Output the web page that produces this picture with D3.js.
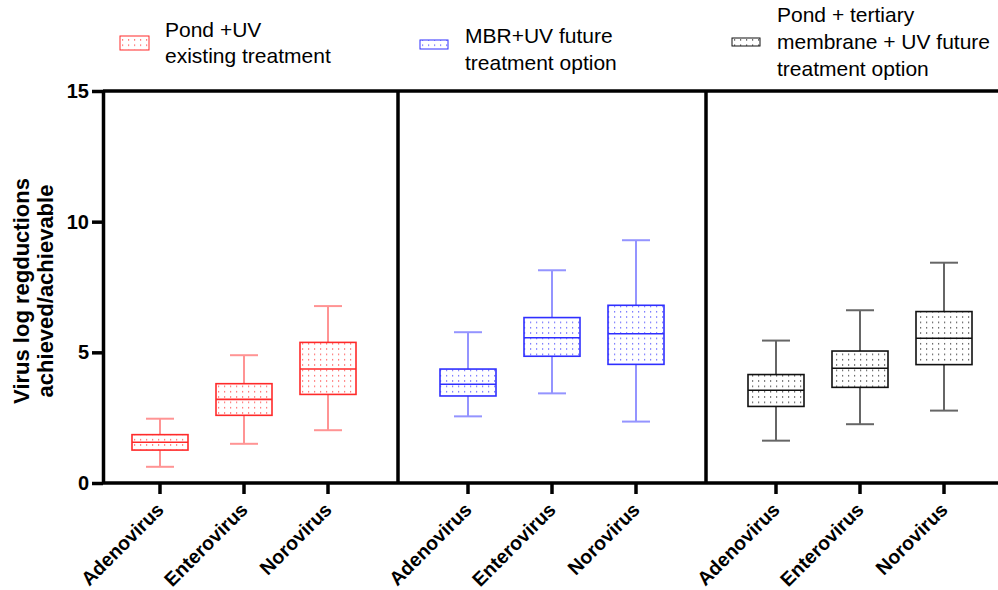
<!DOCTYPE html>
<html>
<head>
<meta charset="utf-8">
<script src="https://cdn.jsdelivr.net/npm/d3@7"></script>
<style>
  html, body { margin: 0; padding: 0; background: #fff; }
  svg { display: block; font-family: "Liberation Sans", Arial, Helvetica, sans-serif; }
</style>
</head>
<body>
<svg id="chart" width="998" height="590"></svg>
<script>
// Virus categories shown in each treatment panel
const viruses = ["Adenovirus", "Enterovirus", "Norovirus"];

// Treatment trains (one panel each) and their legend lines
const treatments = ["pondUV", "mbrUV", "pondMembraneUV"];
const legendLines = [
  ["Pond +UV", "existing treatment"],
  ["MBR+UV future", "treatment option"],
  ["Pond + tertiary", "membrane + UV future", "treatment option"]
];
const colors = ["#ff2a2a", "#2f2fff", "#111111"];
const whiskerColors = ["#ff9494", "#9494ff", "#666666"];

// Box-plot statistics (log reduction values), one array per treatment, ordered by virus
const pondUVMin    = [0.62, 1.50, 2.02];
const pondUVQ1     = [1.26, 2.59, 3.39];
const pondUVMedian = [1.56, 3.20, 4.36];
const pondUVQ3     = [1.85, 3.80, 5.38];
const pondUVMax    = [2.46, 4.89, 6.77];

const mbrUVMin    = [2.55, 3.43, 2.35];
const mbrUVQ1     = [3.33, 4.85, 4.54];
const mbrUVMedian = [3.78, 5.56, 5.71];
const mbrUVQ3     = [4.36, 6.33, 6.80];
const mbrUVMax    = [5.77, 8.14, 9.29];

const pondMemUVMin    = [1.62, 2.25, 2.77];
const pondMemUVQ1     = [2.93, 3.66, 4.53];
const pondMemUVMedian = [3.55, 4.39, 5.54];
const pondMemUVQ3     = [4.15, 5.05, 6.56];
const pondMemUVMax    = [5.45, 6.61, 8.43];

// Y-axis tick labels
const yTicks = [0, 5, 10, 15];

const stats = [
  { min: pondUVMin, q1: pondUVQ1, med: pondUVMedian, q3: pondUVQ3, max: pondUVMax },
  { min: mbrUVMin, q1: mbrUVQ1, med: mbrUVMedian, q3: mbrUVQ3, max: mbrUVMax },
  { min: pondMemUVMin, q1: pondMemUVQ1, med: pondMemUVMedian, q3: pondMemUVQ3, max: pondMemUVMax }
];

const boxes = [];
treatments.forEach((t, i) => {
  viruses.forEach((v, j) => {
    boxes.push({
      t, i, v,
      min: stats[i].min[j], q1: stats[i].q1[j], med: stats[i].med[j],
      q3: stats[i].q3[j], max: stats[i].max[j]
    });
  });
});

const svg = d3.select("#chart");
const axisX = 103, plotTop = 91, plotBottom = 483;

const y = d3.scaleLinear().domain([0, 15]).range([plotBottom, plotTop]);
const panel = d3.scaleBand().domain(treatments).range([90, 1014]).paddingInner(0).paddingOuter(0);
const inner = d3.scalePoint().domain(viruses).range([0, panel.bandwidth()]).padding(0.8333);
const cx = d => panel(d.t) + inner(d.v);

// Dotted fill patterns, one per treatment colour
const defs = svg.append("defs");
colors.forEach((c, i) => {
  const p = defs.append("pattern")
    .attr("id", "dots" + i)
    .attr("patternUnits", "userSpaceOnUse")
    .attr("width", 6).attr("height", 5.33);
  p.append("rect").attr("width", 6).attr("height", 5.33).attr("fill", "#fff");
  p.append("rect").attr("x", 2).attr("y", 2).attr("width", 1.2).attr("height", 1.2)
    .attr("fill", c).attr("opacity", 0.85);
});

const boxHalf = 28, capHalf = 14;

const g = svg.append("g");
const bx = g.selectAll("g.box").data(boxes).join("g").attr("class", "box");

// whiskers
bx.append("line")
  .attr("x1", cx).attr("x2", cx)
  .attr("y1", d => y(d.max)).attr("y2", d => y(d.q3))
  .attr("stroke", d => whiskerColors[d.i]).attr("stroke-width", 2);
bx.append("line")
  .attr("x1", cx).attr("x2", cx)
  .attr("y1", d => y(d.q1)).attr("y2", d => y(d.min))
  .attr("stroke", d => whiskerColors[d.i]).attr("stroke-width", 2);
// caps
bx.append("line")
  .attr("x1", d => cx(d) - capHalf).attr("x2", d => cx(d) + capHalf)
  .attr("y1", d => y(d.max)).attr("y2", d => y(d.max))
  .attr("stroke", d => whiskerColors[d.i]).attr("stroke-width", 2);
bx.append("line")
  .attr("x1", d => cx(d) - capHalf).attr("x2", d => cx(d) + capHalf)
  .attr("y1", d => y(d.min)).attr("y2", d => y(d.min))
  .attr("stroke", d => whiskerColors[d.i]).attr("stroke-width", 2);
// box
bx.append("rect")
  .attr("x", d => cx(d) - boxHalf).attr("width", boxHalf * 2)
  .attr("y", d => y(d.q3)).attr("height", d => y(d.q1) - y(d.q3))
  .attr("fill", d => `url(#dots${d.i})`)
  .attr("stroke", d => colors[d.i]).attr("stroke-width", 1.6);
// median
bx.append("line")
  .attr("x1", d => cx(d) - boxHalf).attr("x2", d => cx(d) + boxHalf)
  .attr("y1", d => y(d.med)).attr("y2", d => y(d.med))
  .attr("stroke", d => colors[d.i]).attr("stroke-width", 1.6);

// Frame: top border and panel dividers
const frame = svg.append("g").attr("stroke", "#000").attr("stroke-width", 3.5);
frame.append("line").attr("x1", axisX).attr("x2", 1014).attr("y1", plotTop).attr("y2", plotTop);
treatments.slice(1).forEach(t => {
  frame.append("line").attr("x1", panel(t)).attr("x2", panel(t)).attr("y1", plotTop).attr("y2", plotBottom);
});

// X axis
const xAxis = svg.append("g");
xAxis.append("line").attr("x1", axisX).attr("x2", 1014).attr("y1", plotBottom).attr("y2", plotBottom)
  .attr("stroke", "#000").attr("stroke-width", 3.5);
const xt = xAxis.selectAll("g.xt").data(boxes).join("g").attr("class", "xt")
  .attr("transform", d => `translate(${cx(d)},${plotBottom})`);
xt.append("line").attr("y1", 0).attr("y2", 11).attr("stroke", "#000").attr("stroke-width", 3.5);
xt.append("text")
  .attr("transform", "translate(5,28) rotate(-45)")
  .attr("text-anchor", "end")
  .attr("font-size", 19.5).attr("font-weight", "bold")
  .text(d => d.v);

// Y axis
const yAxis = svg.append("g").attr("transform", `translate(${axisX},0)`)
  .call(d3.axisLeft(y).tickValues(yTicks).tickSize(11).tickSizeOuter(0).tickPadding(3));
yAxis.select(".domain").attr("stroke-width", 3.5);
yAxis.selectAll(".tick line").attr("stroke-width", 3.5);
yAxis.selectAll(".tick text").attr("font-size", 20).attr("font-weight", "bold")
  .attr("font-family", "Liberation Sans, Arial, sans-serif").attr("fill", "#000");

// Y-axis title
const yTitle = svg.append("text")
  .attr("transform", `translate(0,291) rotate(-90)`)
  .attr("text-anchor", "middle")
  .attr("font-size", 22).attr("font-weight", "bold");
yTitle.append("tspan").attr("x", 0).attr("y", 29).text("Virus log regductions");
yTitle.append("tspan").attr("x", 0).attr("y", 53).text("achieved/achievable");

// Legend
const legendPos = [
  { sx: 120, sy: 36, sw: 29, sh: 14, tx: 165, ty: 37, dy: 26 },
  { sx: 420, sy: 40, sw: 28, sh: 9, tx: 465, ty: 43, dy: 27 },
  { sx: 732, sy: 38, sw: 28, sh: 8, tx: 777, ty: 22, dy: 27 }
];
const leg = svg.append("g");
legendLines.forEach((lines, i) => {
  const p = legendPos[i];
  leg.append("rect").attr("x", p.sx).attr("y", p.sy).attr("width", p.sw).attr("height", p.sh)
    .attr("fill", `url(#dots${i})`).attr("stroke", colors[i]).attr("stroke-width", 1);
  const tx = leg.append("text").attr("font-size", 21).attr("fill", "#000");
  lines.forEach((l, k) => {
    tx.append("tspan").attr("x", p.tx).attr("y", p.ty + k * p.dy).text(l);
  });
});
</script>
</body>
</html>
